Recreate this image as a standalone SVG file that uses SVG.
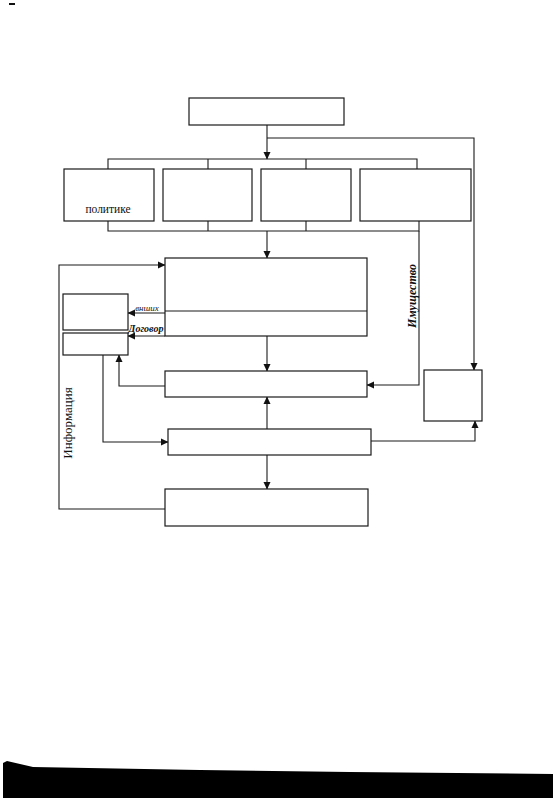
<svg xmlns="http://www.w3.org/2000/svg" width="556" height="800" viewBox="0 0 556 800">
<style>
.box{fill:#fff;stroke:#1a1a1a;stroke-width:1.2}
.ln{fill:none;stroke:#1a1a1a;stroke-width:1.1}
.arr{fill:none;stroke:#1a1a1a;stroke-width:1.1;marker-end:url(#ah)}
.t{font-family:"Liberation Serif",serif;fill:#111}
</style>
<defs>
<marker id="ah" markerWidth="8" markerHeight="8" refX="7" refY="4" orient="auto" markerUnits="userSpaceOnUse">
<path d="M0,0.5 L7.5,4 L0,7.5 Z" fill="#111"/>
</marker>
</defs>
<rect width="556" height="800" fill="#fff"/>
<rect x="9" y="3" width="6" height="2" fill="#111"/>
<path d="M3,763 L7,761 L33,767 L200,770 L350,772 L553,774 L553,798 L3,798 Z" fill="#000"/>

<g id="connectors">
<path class="arr" d="M267,125 V159"/>
<path class="arr" d="M267,138 H474 V370"/>
<path class="ln" d="M108,169 V159 H417 V169 M208,159 V169 M306,159 V169"/>
<path class="ln" d="M108,221 V231 H419 V221 M208,221 V231 M306,221 V231"/>
<path class="arr" d="M267,231 V258"/>
<path class="arr" d="M419,231 V385 H367"/>
<path class="arr" d="M165,509 H59 V265 H165"/>
<path class="arr" d="M165,313 H128"/>
<path class="arr" d="M165,336 H128"/>
<path class="arr" d="M267,336 V371"/>
<path class="arr" d="M165,386 H119 V355"/>
<path class="arr" d="M103,355 V442 H168"/>
<path class="arr" d="M267,429 V397"/>
<path class="arr" d="M371,441 H475 V421"/>
<path class="arr" d="M267,455 V489"/>
<text class="t" x="0" y="0" font-size="12" font-style="italic" font-weight="bold" text-anchor="middle" transform="translate(416,296) rotate(-90)">Имущество</text>
<text class="t" x="0" y="0" font-size="13" text-anchor="middle" transform="translate(72,423) rotate(-90)">Информация</text>
<text class="t" x="147" y="311" font-size="9" font-style="italic" text-anchor="middle">внших</text>
<text class="t" x="146" y="332" font-size="10" font-style="italic" font-weight="bold" text-anchor="middle">Договор</text>
</g>

<g id="top"><rect class="box" x="189" y="98" width="155" height="27"/></g>
<g id="b1"><rect class="box" x="64" y="169" width="90" height="52"/>
<text class="t" x="108" y="213" font-size="11.5" text-anchor="middle">политике</text></g>
<g id="b2"><rect class="box" x="163" y="169" width="89" height="52"/></g>
<g id="b3"><rect class="box" x="261" y="169" width="90" height="52"/></g>
<g id="b4"><rect class="box" x="360" y="169" width="111" height="52"/></g>
<g id="main"><rect class="box" x="165" y="258" width="202" height="78"/>
<line class="ln" x1="165" y1="311" x2="367" y2="311"/></g>
<g id="sa"><rect class="box" x="63" y="294" width="65" height="36"/></g>
<g id="sb"><rect class="box" x="63" y="333" width="65" height="22"/></g>
<g id="mid"><rect class="box" x="165" y="371" width="202" height="26"/></g>
<g id="right"><rect class="box" x="424" y="370" width="58" height="51"/></g>
<g id="low"><rect class="box" x="168" y="429" width="203" height="26"/></g>
<g id="bottom"><rect class="box" x="165" y="489" width="203" height="37"/></g>
</svg>
